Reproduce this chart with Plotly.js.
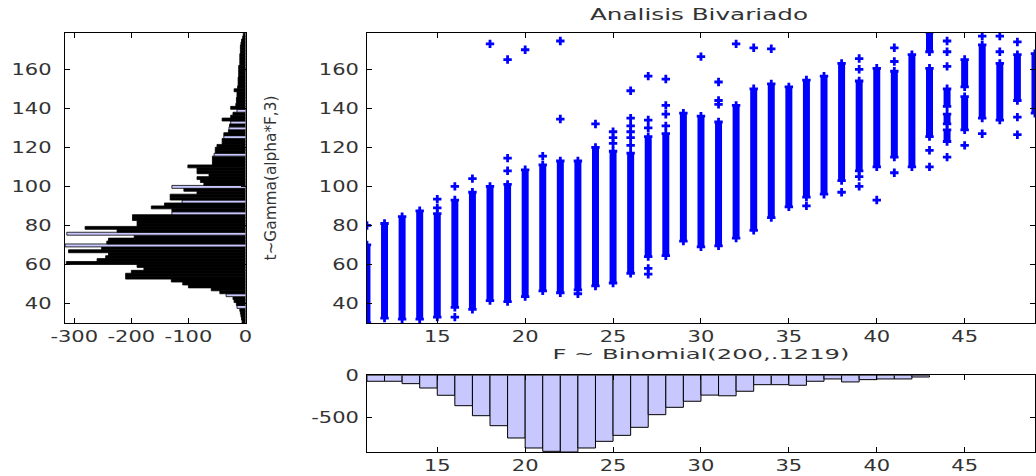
<!DOCTYPE html>
<html>
<head>
<meta charset="utf-8">
<script src="https://cdn.plot.ly/plotly-3.0.1.min.js"></script>
<style>
html,body{margin:0;padding:0;background:#fff;}
#chart{width:1036px;height:476px;}
</style>
</head>
<body>
<div id="chart"></div>
<script>
// ---------- DATA ----------
// Histogram of t (left panel): bin centres and counts
const tBinCenters = [
  30.75, 32.25, 33.75, 35.25, 36.75, 38.25, 39.75, 41.25, 42.75, 44.25,
  45.75, 47.25, 48.75, 50.25, 51.75, 53.25, 54.75, 56.25, 57.75, 59.25,
  60.75, 62.25, 63.75, 65.25, 66.75, 68.25, 69.75, 71.25, 72.75, 74.25,
  75.75, 77.25, 78.75, 80.25, 81.75, 83.25, 84.75, 86.25, 87.75, 89.25,
  90.75, 92.25, 93.75, 95.25, 96.75, 98.25, 99.75, 101.25, 102.75, 104.25,
  105.75, 107.25, 108.75, 110.25, 111.75, 113.25, 114.75, 116.25, 117.75, 119.25,
  120.75, 122.25, 123.75, 125.25, 126.75, 128.25, 129.75, 131.25, 132.75, 134.25,
  135.75, 137.25, 138.75, 140.25, 141.75, 143.25, 144.75, 146.25, 147.75, 149.25,
  150.75, 152.25, 153.75, 155.25, 156.75, 158.25, 159.75, 161.25, 162.75, 164.25,
  165.75, 167.25, 168.75, 170.25, 171.75, 173.25, 174.75, 176.25, 177.75
];
const tCounts = [
  6, 7, 8, 9, 10, 15, 16, 20, 22, 34,
  45, 60, 100, 110, 130, 210, 210, 200, 178, 190,
  314, 260, 245, 240, 310, 252, 316, 243, 240, 195,
  313, 225, 281, 190, 190, 198, 198, 129, 129, 165,
  142, 111, 132, 132, 85, 108, 129, 73, 79, 85,
  64, 85, 85, 101, 58, 58, 58, 55, 53, 53,
  50, 41, 41, 38, 38, 30, 29, 28, 26, 41,
  26, 22, 15, 26, 17, 16, 16, 15, 15, 20,
  14, 13, 13, 13, 12, 12, 12, 12, 10, 10,
  10, 10, 9, 9, 9, 8, 7, 5, 4
];
// bins whose light face shows through in the reference rendering
const tFaceBins = [38.25, 44.25, 69.75, 75.75, 86.25, 92.25, 99.75, 116.25, 125.25, 129.75, 132.75, 138.75];

// Histogram of F (bottom panel)
const fBinCenters = [11.5, 12.5, 13.5, 14.5, 15.5, 16.5, 17.5, 18.5, 19.5, 20.5,
  21.5, 22.5, 23.5, 24.5, 25.5, 26.5, 27.5, 28.5, 29.5, 30.5,
  31.5, 32.5, 33.5, 34.5, 35.5, 36.5, 37.5, 38.5, 39.5, 40.5, 41.5, 42.5];
const fCounts = [70, 70, 98, 149, 234, 356, 473, 590, 734, 851,
  890, 898, 851, 773, 703, 609, 461, 375, 304, 232,
  240, 187, 110, 110, 117, 70, 43, 78, 51, 43, 43, 20];

// Scatter: dense runs of t for each value of F (low / high of each run)
const segF  = [11, 12, 13, 14, 15, 16, 17, 18, 19, 20, 21, 22, 23, 24, 25, 26, 27, 28, 29, 30,
  31, 32, 33, 34, 35, 36, 37, 38, 39, 40, 41, 42, 43, 43, 44, 44, 44, 45, 45, 46, 47, 48, 49];
const segLo = [30, 32.5, 32, 32, 33, 38, 37, 41.5, 41, 43.5, 46.5, 45.5, 47, 49, 50.5, 55.5, 64, 64.5, 72, 69,
  69.5, 73.5, 77.5, 84, 89.5, 94.5, 96, 103, 108, 110, 115, 110, 125.5, 169, 141, 132, 123, 151, 129, 135, 134, 144, 137.5];
const segHi = [70, 81, 84.5, 87.5, 86, 93, 97, 100, 101, 108.5, 111, 113, 113, 120, 118, 117, 125.5, 127, 137.5, 136,
  133, 141.5, 150, 152.5, 151, 154.5, 156.5, 163, 154, 160.5, 159, 167.5, 160.5, 179, 150, 137, 129, 165, 146, 172.5, 163, 167.5, 168];

// Scatter: isolated points
const outF = [11, 15, 15, 16, 16, 17, 18, 19, 19, 19, 20, 21, 22, 22, 23, 24, 25, 25, 25,
  26, 26, 26, 26, 26, 26, 27, 27, 27, 27, 27, 28, 28, 28, 28, 30, 31, 31, 31, 32, 33, 34, 36, 38,
  39, 39, 39, 39, 40, 41, 41, 41, 43, 43, 44, 44, 44, 44, 45, 46, 46, 47, 47, 48, 48, 48];
const outT = [80, 89, 93.5, 33, 100, 104, 173, 108, 114.5, 165, 170, 115.5, 134.5, 174.5, 45, 132, 122, 125, 128,
  121, 125, 128, 131, 135, 149, 55, 58, 130, 134, 156.5, 131, 137, 141.5, 155, 166.5, 142, 144, 153.5, 173, 171, 170.5, 90, 97,
  100, 105, 160, 165.5, 93, 107, 164, 171, 110, 118.5, 115, 161.5, 169, 174.5, 121, 127, 177, 169, 177, 126.5, 135.5, 174];

// Tick labels
const tHistTickVals = [-300, -200, -100, 0];
const tHistTickText = ['-300', '-200', '-100', '0'];
const fHistTickVals = [-500, 0];
const fHistTickText = ['-500', '0'];

// Text
const chartTitle = 'Analisis Bivariado';
const xLabel = 'F ~ Binomial(200,.1219)';
const yLabel = 't~Gamma(alpha*F,3)';

// ---------- BUILD ----------
const FONT = 'DejaVu Sans, sans-serif';
const BLUE = '#0000ff';
const FACE = '#c8c8ff';
const TXT = '#333';

const segX = [], segY = [];
segF.forEach((f, i) => { segX.push(f, f, null); segY.push(segLo[i], segHi[i], null); });

const traces = [
  { type: 'bar', orientation: 'h', xaxis: 'x', yaxis: 'y',
    y: tBinCenters, x: tCounts.map(v => -v), width: 1.5,
    marker: { color: tBinCenters.map(c => tFaceBins.includes(c) ? FACE : '#000'),
              line: { color: '#000', width: 0.8 } },
    hoverinfo: 'skip' },
  { type: 'scatter', mode: 'lines+markers', xaxis: 'x2', yaxis: 'y2',
    x: segX, y: segY, connectgaps: false,
    line: { color: BLUE, width: 7 },
    marker: { symbol: 'cross', size: 7, color: BLUE },
    hoverinfo: 'skip' },
  { type: 'scatter', mode: 'markers', xaxis: 'x2', yaxis: 'y2',
    x: outF, y: outT,
    marker: { symbol: 'cross', size: 7, color: BLUE },
    hoverinfo: 'skip' },
  { type: 'bar', xaxis: 'x3', yaxis: 'y3',
    x: fBinCenters, y: fCounts.map(v => -v), width: 1,
    marker: { color: FACE, line: { color: '#000', width: 1 } },
    hoverinfo: 'skip' }
];

const axBase = {
  showline: true, linecolor: '#000', linewidth: 1, mirror: 'ticks',
  ticks: 'inside', ticklen: 5, tickwidth: 1, tickcolor: '#000',
  showgrid: false, zeroline: false, fixedrange: true,
  tickfont: { family: FONT, size: 15, color: TXT }
};
const topDom = [0.3214, 0.9307];
const rightDom = [0.3542, 0.999];

const layout = {
  width: 1036, height: 476,
  margin: { l: 0, r: 0, t: 0, b: 0 },
  paper_bgcolor: '#fff', plot_bgcolor: '#fff',
  showlegend: false, bargap: 0,
  title: { text: chartTitle, x: 0.6747, xanchor: 'center', y: 0.97, yanchor: 'middle',
           font: { family: FONT, size: 16, color: TXT } },
  xaxis:  Object.assign({}, axBase, { domain: [0.0623, 0.237], range: [-317, 0],
           tickmode: 'array', tickvals: tHistTickVals, ticktext: tHistTickText, anchor: 'y' }),
  yaxis:  Object.assign({}, axBase, { domain: topDom, range: [30, 178.6], dtick: 20, tick0: 0, anchor: 'x',
           ticklabelstandoff: 9 }),
  xaxis2: Object.assign({}, axBase, { domain: rightDom, range: [11, 49], dtick: 5, tick0: 0, anchor: 'y2',
           title: { text: xLabel, standoff: 2, font: { family: FONT, size: 14, color: TXT } } }),
  yaxis2: Object.assign({}, axBase, { domain: topDom, range: [30, 178.6], dtick: 20, tick0: 0, anchor: 'x2',
           ticklabelstandoff: 4,
           title: { text: yLabel, standoff: 50, font: { family: FONT, size: 15, color: TXT } } }),
  xaxis3: Object.assign({}, axBase, { domain: rightDom, range: [11, 49], dtick: 5, tick0: 0, anchor: 'y3' }),
  yaxis3: Object.assign({}, axBase, { domain: [0.0504, 0.2116], range: [-898, 0],
           tickmode: 'array', tickvals: fHistTickVals, ticktext: fHistTickText, anchor: 'x3', ticklabelstandoff: 4 })
};

function stretch(sel, fixedLen, factor) {
  document.querySelectorAll(sel).forEach(t => {
    const w = fixedLen || t.getComputedTextLength() * factor;
    t.setAttribute('textLength', w);
    t.setAttribute('lengthAdjust', 'spacingAndGlyphs');
  });
}

Plotly.newPlot('chart', traces, layout, { staticPlot: true, displayModeBar: false }).then(() => {
  // the reference draws its text horizontally stretched
  stretch('text.gtitle', 218);
  stretch('text.x2title', 297);
  stretch('text.y2title', 165);
  stretch('g.xtick text, g.ytick text, g.x2tick text, g.y2tick text, g.x3tick text, g.y3tick text', 0, 1.4);
});
</script>
</body>
</html>
